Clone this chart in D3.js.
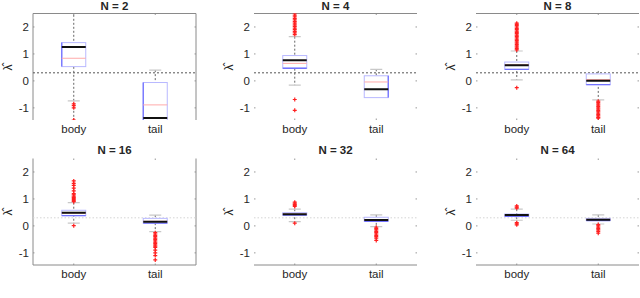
<!DOCTYPE html>
<html>
<head>
<meta charset="utf-8">
<script src="https://cdn.jsdelivr.net/npm/d3@7"></script>
<style>
  body { margin: 0; background: #fff; }
  text { font-family: "Liberation Sans", Arial, sans-serif; fill: #262626; }
</style>
</head>
<body>
<div id="app"></div>
<script>
const titles = ['N = 2', 'N = 4', 'N = 8', 'N = 16', 'N = 32', 'N = 64'];
const cats = ['body', 'tail'];
const yTicks = [-1, 0, 1, 2];
const refLine = 0.3;

// per panel: [body, tail]
const q1 = [[0.53, -1.6], [0.47, -0.62], [0.43, -0.14], [0.38, 0.10], [0.40, 0.17], [0.35, 0.20]];
const q3 = [[1.42, -0.06], [0.94, 0.19], [0.70, 0.26], [0.58, 0.28], [0.49, 0.32], [0.44, 0.28]];
const medians = [[1.26, -1.38], [0.77, -0.31], [0.58, 0.01], [0.49, 0.15], [0.43, 0.22], [0.40, 0.23]];
const means = [[0.84, -0.89], [0.65, -0.04], [0.60, 0.05], [0.47, 0.17], [0.44, 0.23], [0.39, 0.24]];
const capLo = [[-0.74, null], [-0.16, null], [0.04, -0.70], [0.10, -0.21], [0.16, -0.03], [0.21, 0.07]];
const capHi = [[null, 0.40], [1.64, 0.43], [1.11, null], [0.86, 0.40], [0.62, 0.41], [0.62, 0.41]];
const whiskLo = [[-1.6, -1.6], [-0.16, -0.62], [0.04, -0.70], [0.10, -0.21], [0.16, -0.03], [0.21, 0.07]];
const whiskHi = [[2.6, 0.40], [1.64, 0.43], [1.11, 0.37], [0.86, 0.40], [0.62, 0.41], [0.62, 0.41]];
const outliers = [
  [[-0.85, -0.92, -1.0, -1.45], []],
  [[1.72, 1.78, 1.84, 1.9, 1.96, 2.02, 2.08, 2.14, 2.2, 2.26, 2.32, 2.38, 2.44, 2.5, -0.69, -1.09], []],
  [[1.15, 1.2, 1.25, 1.3, 1.35, 1.4, 1.45, 1.5, 1.55, 1.6, 1.65, 1.7, 1.75, 1.8, 1.85, 1.9, 1.95, 2.0, 2.05, 2.1, 2.14, -0.25],
   [-0.75, -0.8, -0.85, -0.9, -0.95, -1.0, -1.05, -1.1, -1.15, -1.2, -1.25, -1.3, -1.35, -1.38]],
  [[0.9, 0.94, 0.98, 1.02, 1.06, 1.1, 1.15, 1.2, 1.3, 1.4, 1.5, 1.58, 1.67, 0.01],
   [-0.25, -0.3, -0.35, -0.4, -0.45, -0.5, -0.55, -0.6, -0.65, -0.7, -0.75, -0.8, -0.9, -1.0, -1.1, -1.26]],
  [[0.72, 0.76, 0.8, 0.84, 0.88, 0.1], [-0.05, -0.1, -0.15, -0.2, -0.25, -0.3, -0.35, -0.4, -0.45, -0.54]],
  [[0.66, 0.7, 0.74, 0.12, 0.08, 0.04], [0.05, 0.0, -0.05, -0.1, -0.15, -0.2, -0.27]]
];

const width = 640;
const height = 298;
const pw = 163;
const lefts = [33, 254, 476];
const tops = [13.5, 158.5];
const ph = 106.5;
// which frame edges each panel shows
const frames = [
  ['top', 'left', 'right'], ['top'], ['top'],
  ['left', 'right', 'bottom'], ['bottom'], ['bottom']
];

const svg = d3.select('#app').append('svg')
  .attr('width', width)
  .attr('height', height);

const x = d3.scaleLinear().domain([0.5, 2.5]).range([0, pw]);
const y = d3.scaleLinear().domain([-1.45, 2.5]).range([ph, 0]);
const bw = 24;

titles.forEach((title, i) => {
  const row = Math.floor(i / 3);
  const g = svg.append('g')
    .attr('transform', `translate(${lefts[i % 3]},${tops[row]})`);

  g.append('clipPath').attr('id', `clip${i}`)
    .append('rect').attr('width', pw).attr('height', ph);

  // ticks
  yTicks.forEach(t => {
    g.append('line').attr('x1', 0).attr('x2', 1.5).attr('y1', y(t)).attr('y2', y(t)).attr('stroke', '#999');
    g.append('line').attr('x1', pw - 1.5).attr('x2', pw).attr('y1', y(t)).attr('y2', y(t)).attr('stroke', '#999');
  });
  cats.forEach((c, j) => {
    g.append('line').attr('x1', x(j + 1)).attr('x2', x(j + 1)).attr('y1', 0).attr('y2', 1.5).attr('stroke', '#999');
    g.append('line').attr('x1', x(j + 1)).attr('x2', x(j + 1)).attr('y1', ph - 1.5).attr('y2', ph).attr('stroke', '#999');
  });

  const edges = {
    top: [0, 0, pw, 0], bottom: [0, ph, pw, ph],
    left: [0, 0, 0, ph], right: [pw, 0, pw, ph]
  };
  frames[i].forEach(e => {
    const [x1, y1, x2, y2] = edges[e];
    g.append('line').attr('x1', x1).attr('y1', y1).attr('x2', x2).attr('y2', y2)
      .attr('stroke', '#8a8a8a').attr('stroke-width', 1);
  });

  g.append('g').selectAll('text')
    .data(yTicks).enter().append('text')
    .attr('x', -4).attr('y', d => y(d) + 4)
    .attr('text-anchor', 'end').attr('font-size', 11.5)
    .text(d => d);

  g.selectAll('.cat')
    .data(cats).enter().append('text')
    .attr('x', (d, j) => x(j + 1)).attr('y', ph + 13)
    .attr('text-anchor', 'middle').attr('font-size', 11.5)
    .text(d => d);

  g.append('text')
    .attr('x', pw / 2).attr('y', row === 0 ? -4 : -4.5)
    .attr('text-anchor', 'middle').attr('font-size', 11.5).attr('font-weight', 'bold')
    .text(title);

  g.append('text')
    .attr('transform', `translate(-21,${y(0.5)}) rotate(-90)`)
    .attr('text-anchor', 'middle').attr('font-size', 12)
    .text('λ\u0302');

  const p = g.append('g').attr('clip-path', `url(#clip${i})`);

  p.append('line')
    .attr('x1', 0).attr('x2', pw).attr('y1', y(refLine)).attr('y2', y(refLine))
    .attr('stroke', row === 0 ? '#555' : '#d4d4d4')
    .attr('stroke-dasharray', row === 0 ? '2,2' : '1.5,2');

  cats.forEach((c, j) => {
    const cx = x(j + 1);
    p.append('line')
      .attr('x1', cx).attr('x2', cx)
      .attr('y1', y(whiskHi[i][j])).attr('y2', y(whiskLo[i][j]))
      .attr('stroke', '#666').attr('stroke-dasharray', '2,2');
    [capLo[i][j], capHi[i][j]].forEach(v => {
      if (v === null) return;
      p.append('line')
        .attr('x1', cx - 6).attr('x2', cx + 6).attr('y1', y(v)).attr('y2', y(v))
        .attr('stroke', '#c8c8c8').attr('stroke-width', 1.2);
    });
    const top = y(q3[i][j]);
    const bot = y(q1[i][j]);
    p.append('rect')
      .attr('x', cx - bw / 2).attr('y', top)
      .attr('width', bw).attr('height', bot - top)
      .attr('fill', '#fff').attr('stroke', '#b8b8ff').attr('stroke-width', 1);
    // darker box side
    let side;
    if (i === 0) side = [cx - bw / 2, top, cx - bw / 2, bot];
    else if (i === 1 && j === 1) side = [cx + bw / 2, top, cx + bw / 2, bot];
    else side = [cx - bw / 2, bot, cx + bw / 2, bot];
    p.append('line')
      .attr('x1', side[0]).attr('y1', side[1]).attr('x2', side[2]).attr('y2', side[3])
      .attr('stroke', '#7373ff').attr('stroke-width', 1.3);
    p.append('line')
      .attr('x1', cx - bw / 2).attr('x2', cx + bw / 2)
      .attr('y1', y(means[i][j])).attr('y2', y(means[i][j]))
      .attr('stroke', '#ffaaaa').attr('stroke-width', 1);
    p.append('line')
      .attr('x1', cx - bw / 2).attr('x2', cx + bw / 2)
      .attr('y1', y(medians[i][j])).attr('y2', y(medians[i][j]))
      .attr('stroke', '#111').attr('stroke-width', 2);
    p.selectAll(null)
      .data(outliers[i][j]).enter().append('path')
      .attr('d', d => `M${cx - 2},${y(d)}h4M${cx},${y(d) - 2}v4`)
      .attr('stroke', '#ff2020').attr('stroke-width', 1.2);
  });
});
</script>
</body>
</html>
